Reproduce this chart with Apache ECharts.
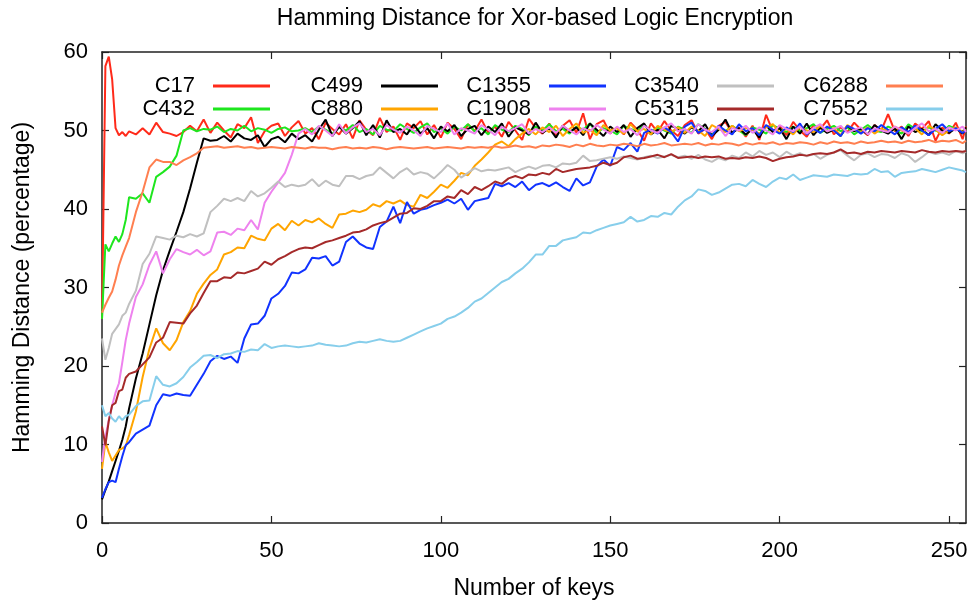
<!DOCTYPE html>
<html>
<head>
<meta charset="utf-8">
<script src="https://cdn.jsdelivr.net/npm/echarts@6/dist/echarts.min.js"></script>
<style>
html,body{margin:0;padding:0;background:#fff;}
#chart{width:974px;height:605px;}
</style>
</head>
<body>
<div id="chart"></div>
<script>
const keys = [
  0,1,2,3,4,5,6,7,8,10,
  12,14,16,18,20,22,24,26,28,30,
  32,34,36,38,40,42,44,46,48,50,
  52,54,56,58,60,62,64,66,68,70,
  72,74,76,78,80,82,84,86,88,90,
  92,94,96,98,100,102,104,106,108,110,
  112,114,116,118,120,122,124,126,128,130,
  132,134,136,138,140,142,144,146,148,150,
  152,154,156,158,160,162,164,166,168,170,
  172,174,176,178,180,182,184,186,188,190,
  192,194,196,198,200,202,204,206,208,210,
  212,214,216,218,220,222,224,226,228,230,
  232,234,236,238,240,242,244,246,248,250,
  252,254,255
];

const c17 = [
  26,58.2,59.4,56.5,50.3,49.4,49.8,49.3,49.9,49.5,
  50.3,49.5,51.0,49.8,49.6,49.3,49.8,50.6,49.9,51.4,
  49.7,51.0,50.0,49.1,50.8,50.3,51.7,48.4,49.9,50.6,
  50.9,49.3,50.4,51.2,49.6,50.3,48.9,51.0,50.2,49.5,
  50.8,49.0,51.3,50.1,49.4,51.6,49.8,50.5,48.8,50.9,
  50.3,51.2,49.5,50.7,49.1,51.0,50.2,48.9,50.8,49.9,
  51.4,49.7,50.5,49.2,51.1,50.0,48.8,51.5,50.3,49.6,
  50.9,49.4,50.6,51.3,49.7,52.2,48.9,50.8,51.3,49.6,
  50.4,49.5,51.0,50.1,48.7,50.9,49.8,51.2,50.0,49.3,
  50.7,51.3,49.6,50.2,48.9,50.6,51.1,49.7,50.4,49.2,
  50.6,48.8,52.0,49.9,50.6,49.4,51.1,50.0,49.2,50.7,
  50.2,51.3,49.5,50.4,49.8,51.0,50.1,49.4,50.7,50.0,
  52.1,49.9,50.5,49.3,50.9,50.2,51.2,48.7,50.4,49.6,
  51.0,48.9,50.5
];

const c432 = [
  26,35.5,34.6,35.6,36.5,35.8,36.8,38.6,41.5,41.3,
  42.0,40.8,44.1,44.7,45.4,46.8,50.0,50.3,49.9,50.2,
  50.1,50.5,49.8,50.2,50.0,50.6,49.9,50.3,50.1,49.7,
  50.2,50.4,49.9,50.0,50.3,49.8,50.5,50.1,49.6,50.4,
  50.0,50.7,49.8,50.2,49.5,50.6,50.1,49.9,50.8,50.2,
  49.7,50.4,50.9,49.8,50.3,49.6,50.5,50.0,50.8,49.9,
  50.3,49.5,50.7,50.1,49.8,50.6,50.2,49.4,50.5,50.0,
  50.8,49.9,50.2,49.6,50.5,50.1,50.9,49.7,50.3,50.0,
  49.5,50.6,50.2,49.9,50.7,49.8,50.4,50.0,49.6,50.5,
  50.1,49.7,50.8,50.2,49.5,50.3,49.9,50.6,50.0,49.4,
  50.4,50.1,49.6,50.7,50.2,49.8,50.5,49.9,50.3,50.8,
  49.7,50.2,50.6,49.9,50.4,49.5,50.1,50.7,50.0,49.8,
  50.5,50.1,49.6,50.8,50.2,49.9,50.4,50.0,49.7,50.6,
  50.2,49.8,50.3
];

const c499 = [
  3.0,4.2,5.3,6.6,7.9,9.2,10.6,12.3,14.6,18.4,
  21.6,25.3,29.0,32.2,34.7,37.1,39.6,42.6,45.9,49.0,
  48.7,48.8,49.3,48.6,49.6,49.0,48.8,49.4,47.9,48.9,
  49.2,48.5,49.6,48.9,49.4,48.6,50.1,51.4,49.3,50.5,
  49.6,50.3,51.2,49.4,50.7,49.1,51.3,49.8,50.2,49.5,
  50.8,49.6,50.3,49.0,50.5,49.9,50.7,49.3,50.2,50.6,
  49.4,50.5,49.8,50.9,49.2,50.4,50.0,49.5,51.0,49.7,
  50.3,49.1,50.6,49.8,50.4,49.4,50.9,50.1,49.3,50.5,
  49.8,50.7,49.2,50.3,50.9,49.5,50.1,49.0,50.6,50.2,
  49.6,50.4,49.9,50.8,49.3,50.1,51.4,49.7,50.3,49.5,
  50.2,49.1,50.6,49.8,50.3,48.9,50.5,49.6,50.9,49.4,
  50.4,49.7,50.1,49.3,50.6,49.9,50.2,49.5,50.7,50.0,
  49.6,50.3,48.9,50.5,49.8,50.2,49.4,50.8,50.0,49.7,
  50.3,49.6,50.4
];

const c880 = [
  6.9,10.3,9.0,7.9,8.6,9.3,9.5,9.8,11.2,14.2,
  18.6,22.2,24.8,22.9,22.0,23.3,25.6,27.0,29.2,30.5,
  31.6,32.3,34.2,34.5,35.1,35.0,36.6,36.2,36.0,37.5,
  38.1,37.3,38.5,37.9,38.6,38.3,38.8,38.1,37.6,39.3,
  39.4,39.8,39.6,39.9,40.6,40.3,41.0,40.7,41.1,40.5,
  40.3,41.8,41.4,42.2,43.1,42.7,43.6,44.6,44.3,45.5,
  46.3,47.2,48.2,48.6,48.0,48.9,49.6,50.2,49.5,50.4,
  49.8,50.6,49.3,50.2,50.9,49.7,50.1,49.4,50.7,50.0,
  50.3,49.6,50.8,49.9,50.2,49.5,50.6,50.1,49.8,50.4,
  49.7,50.5,50.0,49.3,50.7,50.2,49.8,50.6,49.9,50.3,
  50.1,49.6,50.4,50.8,49.7,50.2,49.5,50.5,50.0,49.8,
  50.6,49.9,50.3,49.4,50.7,50.1,49.8,50.4,49.6,50.2,
  49.9,50.5,50.0,49.7,50.3,49.5,50.6,50.1,49.4,50.0,
  50.4,49.8,50.1
];

const c1355 = [
  3.2,4.3,5.2,5.4,5.2,6.9,8.5,9.9,10.3,11.4,
  11.9,12.4,15.0,16.4,16.2,16.5,16.3,16.2,17.6,19.0,
  20.6,21.3,20.9,21.2,20.4,23.5,25.3,25.4,26.4,28.6,
  29.2,30.2,31.9,31.8,32.3,33.8,33.7,34.0,32.8,33.3,
  35.8,36.5,35.6,35.1,34.9,37.7,38.4,40.3,38.2,40.9,
  39.4,39.9,40.1,40.5,40.8,41.2,40.7,41.3,39.9,41.0,
  41.2,41.4,43.2,42.9,43.3,42.8,43.5,42.4,43.1,43.3,
  42.9,43.4,42.8,42.3,43.9,43.0,43.4,45.4,46.3,45.5,
  47.9,47.5,48.4,47.3,49.7,50.1,49.6,50.4,49.8,48.6,
  50.5,51.0,49.7,50.2,49.3,50.6,50.0,49.5,50.8,49.9,
  50.3,49.4,50.7,50.1,49.6,50.4,49.8,50.9,49.5,50.2,
  49.7,50.5,50.0,49.3,50.6,50.2,49.6,50.3,49.9,50.7,
  50.1,49.5,50.4,49.8,50.6,50.0,49.4,50.2,50.8,49.9,
  50.3,49.7,50.0
];

const c1908 = [
  7.8,11.0,13.1,15.0,16.6,17.8,20.5,23.3,25.4,28.8,
  30.4,32.9,34.6,31.8,33.6,34.9,34.5,34.2,34.8,34.1,
  34.6,37.0,37.1,36.7,37.5,37.3,38.6,37.4,40.8,42.2,
  43.4,44.6,46.9,49.6,50.2,49.5,50.6,50.0,49.3,50.8,
  49.6,50.4,50.9,49.8,50.2,49.4,50.7,50.1,49.7,50.5,
  50.0,49.3,50.6,50.2,49.8,50.9,49.5,50.3,50.0,49.6,
  50.7,50.1,49.4,50.5,49.9,50.3,50.8,49.6,50.2,49.8,
  50.4,49.7,50.6,50.0,49.5,50.3,49.9,50.7,50.1,49.6,
  50.5,49.8,50.2,49.4,50.6,50.0,49.7,50.4,50.9,49.9,
  50.2,49.6,50.8,50.1,49.8,50.5,49.3,50.3,50.0,50.6,
  49.7,50.4,50.0,49.5,50.7,50.2,49.9,50.5,49.6,50.3,
  50.8,49.9,50.2,50.6,49.7,50.1,50.4,49.5,50.3,50.0,
  49.8,50.5,50.1,49.6,50.3,50.9,49.9,50.2,49.7,50.4,
  50.0,50.5,49.8
];

const c3540 = [
  23.5,20.8,22.3,24.1,24.7,25.3,26.4,26.8,27.9,29.6,
  33.0,34.3,36.5,36.3,36.1,36.6,36.4,36.8,36.5,36.9,
  39.6,40.4,41.3,41.0,41.4,41.0,42.3,41.6,42.0,42.7,
  43.5,42.8,43.1,42.9,43.1,43.8,42.9,43.6,43.1,42.9,
  44.2,44.2,43.8,44.2,44.4,45.3,44.6,43.9,44.7,45.2,
  44.4,44.7,44.5,43.9,44.7,45.6,45.0,44.0,44.6,45.2,
  44.8,45.0,44.9,45.1,45.3,44.7,45.1,45.4,45.1,45.5,
  45.6,45.3,45.8,45.7,45.9,46.8,46.1,46.2,46.4,46.6,
  46.4,46.7,46.5,46.3,46.6,46.8,46.5,46.7,46.9,46.6,
  46.8,46.4,46.9,46.3,46.0,46.5,46.2,46.8,46.5,47.2,
  46.7,47.4,46.9,47.2,46.6,47.3,46.8,47.1,46.7,47.0,
  46.4,46.9,47.2,47.5,46.8,46.2,46.9,47.1,46.6,47.0,
  46.9,46.5,47.1,46.8,46.0,46.6,47.3,47.0,47.2,46.9,
  47.4,47.1,47.3
];

const c5315 = [
  12.3,9.9,13.0,15.0,15.3,16.8,17.0,18.5,19.0,19.3,
  20.2,21.1,23.0,23.6,25.6,25.5,25.4,26.7,27.7,29.3,
  30.8,30.8,31.3,31.2,31.9,31.8,32.1,32.4,33.3,32.9,
  33.6,34.0,34.5,34.9,35.1,35.0,35.4,35.8,36.0,36.3,
  36.6,37.0,37.1,37.4,37.9,38.2,38.4,38.9,39.4,39.5,
  40.1,40.0,40.4,41.0,41.0,41.6,41.4,42.4,41.9,42.8,
  42.4,42.9,43.5,43.2,43.9,44.2,43.9,44.4,44.3,44.6,
  44.4,45.1,44.7,44.9,45.1,45.2,45.3,45.5,45.9,45.6,
  45.9,46.6,46.8,46.4,46.5,46.7,46.9,46.6,47.0,46.5,
  46.6,46.7,46.5,46.7,46.6,46.7,46.4,46.5,46.4,46.6,
  46.5,46.7,46.5,46.1,46.4,46.6,46.7,46.9,46.8,47.0,
  47.1,47.0,47.2,47.6,47.1,47.2,47.0,47.3,47.2,47.4,
  47.3,47.2,47.4,47.3,47.2,47.5,47.3,47.2,47.4,47.3,
  47.4,47.3,47.4
];

const c6288 = [
  26.8,27.8,28.7,29.5,31.0,32.8,34.1,35.2,36.3,39.6,
  42.2,45.3,46.3,46.0,46.0,45.6,46.2,46.6,47.1,47.8,
  47.9,48.0,47.8,47.9,48.0,47.8,47.9,47.7,47.8,47.9,
  47.8,47.7,47.9,47.8,47.7,47.9,47.8,47.8,47.6,47.8,
  47.9,47.7,47.8,47.7,47.9,47.8,47.6,47.8,47.9,47.8,
  47.7,47.8,47.9,47.7,47.8,47.9,47.8,47.7,47.9,47.8,
  47.9,47.8,48.0,47.8,47.9,48.1,47.9,48.0,47.8,48.1,
  48.0,48.2,48.1,47.9,48.2,48.0,48.3,48.1,48.0,48.2,
  48.1,48.3,48.2,48.0,48.3,48.1,48.2,48.4,48.1,48.2,
  48.3,48.2,48.4,48.1,48.3,48.2,48.4,48.3,48.1,48.4,
  48.2,48.4,48.3,48.5,48.2,48.4,48.3,48.5,48.4,48.2,
  48.5,48.3,48.6,48.4,48.5,48.3,48.6,48.4,48.5,48.7,
  48.5,48.6,48.4,48.7,48.5,48.6,48.8,48.5,48.7,48.6,
  48.8,48.4,48.7
];

const c7552 = [
  15.0,13.6,14.0,13.3,12.9,13.6,13.1,13.6,13.8,14.9,
  15.5,15.6,18.7,17.6,17.4,17.8,18.6,19.8,20.5,21.3,
  21.4,21.0,21.5,21.6,21.9,21.8,22.1,22.0,22.8,22.3,
  22.5,22.6,22.5,22.4,22.5,22.6,22.9,22.7,22.6,22.5,
  22.6,22.9,23.1,23.0,23.2,23.4,23.2,23.1,23.2,23.6,
  24.0,24.4,24.8,25.1,25.4,26.0,26.3,26.8,27.4,28.2,
  28.6,29.3,30.0,30.7,31.1,31.8,32.4,33.2,34.2,34.2,
  35.3,35.3,36.0,36.2,36.4,37.0,36.9,37.3,37.6,37.9,
  38.1,38.3,39.0,38.4,38.6,39.1,39.0,39.5,39.3,40.3,
  41.1,41.6,42.5,42.3,41.8,42.1,42.6,43.1,43.2,42.9,
  43.7,43.2,42.8,43.5,44.0,43.8,44.4,43.7,44.0,44.3,
  44.2,44.1,44.4,44.3,44.2,44.5,44.4,44.5,45.1,44.7,
  44.8,44.1,44.6,44.7,44.8,45.1,44.9,44.7,45.0,45.3,
  45.1,44.9,44.7
];

const seriesNames = ['C17','C432','C499','C880','C1355','C1908','C3540','C5315','C6288','C7552'];
const seriesValues = [c17,c432,c499,c880,c1355,c1908,c3540,c5315,c6288,c7552];
const seriesColors = ['#ff2a1a','#1ee61e','#000000','#ffa500','#1133ff','#ee82ee','#c0c0c0','#a52a2a','#ff7f50','#87ceeb'];

const xTicks = [0,50,100,150,200,250];
const yTicks = [0,10,20,30,40,50,60];

const FONT = '"Liberation Sans", Arial, Helvetica, sans-serif';
const frameColor = '#222';

// legend: 5 columns x 2 rows, gnuplot style (text left of the line sample)
const legendRights = [704, 536, 368, 200, 31];
const legendTops = [75, 98];
const legends = seriesNames.map((n, i) => ({
  data: [n],
  orient: 'vertical',
  align: 'right',
  right: legendRights[Math.floor(i / 2)],
  top: legendTops[i % 2],
  padding: 0,
  icon: 'rect',
  itemWidth: 57,
  itemHeight: 3,
  selectedMode: false,
  textStyle: { fontFamily: FONT, fontSize: 22, color: '#000', lineHeight: 22, padding: [0, 13, 0, 0] }
}));

const axisCommon = {
  type: 'value',
  axisLine: { show: true, onZero: false, lineStyle: { color: frameColor, width: 1.5 } },
  axisTick: { show: true, inside: true, length: 7, lineStyle: { color: frameColor, width: 1.2 } },
  splitLine: { show: false }
};

const option = {
  animation: false,
  backgroundColor: '#fff',
  title: {
    text: 'Hamming Distance for Xor-based Logic Encryption',
    left: 535,
    textAlign: 'center',
    top: 7,
    padding: 0,
    textStyle: { fontFamily: FONT, fontSize: 23, fontWeight: 'normal', color: '#000' }
  },
  legend: legends,
  grid: { left: 102, right: 8, top: 52, bottom: 81, containLabel: false },
  xAxis: [
    Object.assign({}, axisCommon, {
      position: 'bottom', min: 0, max: 255, interval: 50,
      name: 'Number of keys', nameLocation: 'middle', nameGap: 54,
      nameTextStyle: { fontFamily: FONT, fontSize: 23, color: '#000' },
      axisLabel: { show: true, margin: 17, showMaxLabel: false, fontFamily: FONT, fontSize: 22, color: '#000',
        formatter: v => (xTicks.indexOf(v) >= 0 ? String(v) : '') }
    }),
    Object.assign({}, axisCommon, {
      position: 'top', min: 0, max: 255, interval: 50,
      axisLabel: { show: false }
    })
  ],
  yAxis: [
    Object.assign({}, axisCommon, {
      position: 'left', min: 0, max: 60, interval: 10,
      name: 'Hamming Distance (percentage)', nameLocation: 'middle', nameGap: 68,
      nameTextStyle: { fontFamily: FONT, fontSize: 23, color: '#000' },
      axisLabel: { show: true, margin: 14, fontFamily: FONT, fontSize: 22, color: '#000',
        formatter: v => (yTicks.indexOf(v) >= 0 ? String(v) : '') }
    }),
    Object.assign({}, axisCommon, {
      position: 'right', min: 0, max: 60, interval: 10,
      axisLabel: { show: false }
    })
  ],
  series: seriesNames.map((n, i) => ({
    name: n,
    type: 'line',
    xAxisIndex: 0,
    yAxisIndex: 0,
    showSymbol: false,
    symbol: 'none',
    smooth: false,
    color: seriesColors[i],
    lineStyle: { color: seriesColors[i], width: 2 },
    data: keys.map((k, j) => [k, seriesValues[i][j]])
  }))
};

const chart = echarts.init(document.getElementById('chart'), null, { renderer: 'canvas' });
chart.setOption(option);
</script>
</body>
</html>
